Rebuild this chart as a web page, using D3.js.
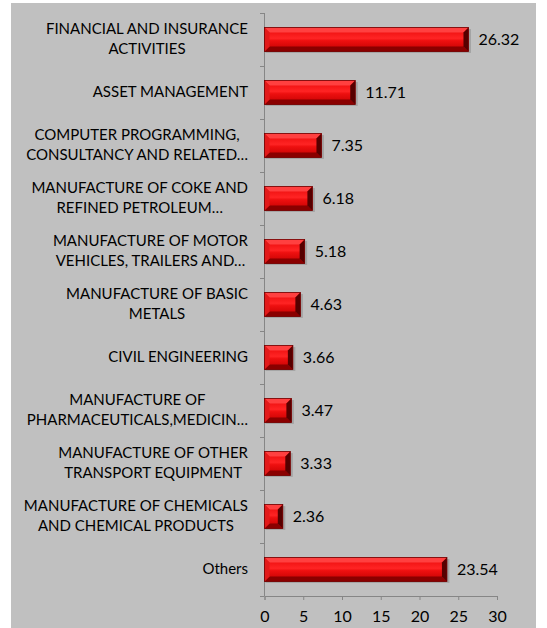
<!DOCTYPE html>
<html><head><meta charset="utf-8">
<script src="https://cdn.jsdelivr.net/npm/d3@7"></script>
<style>body{margin:0;background:#fff}svg{display:block}</style>
</head><body>
<svg id="c" width="547" height="628"></svg>
<script>
const categories = [
  ["FINANCIAL AND INSURANCE","ACTIVITIES"],
  ["ASSET MANAGEMENT"],
  ["COMPUTER PROGRAMMING,","CONSULTANCY AND RELATED…"],
  ["MANUFACTURE OF COKE AND","REFINED PETROLEUM…"],
  ["MANUFACTURE OF MOTOR","VEHICLES, TRAILERS AND…"],
  ["MANUFACTURE OF BASIC","METALS"],
  ["CIVIL ENGINEERING"],
  ["MANUFACTURE OF","PHARMACEUTICALS,MEDICIN…"],
  ["MANUFACTURE OF OTHER","TRANSPORT EQUIPMENT"],
  ["MANUFACTURE OF CHEMICALS","AND CHEMICAL PRODUCTS"],
  ["Others"]
];
const values = [26.32, 11.71, 7.35, 6.18, 5.18, 4.63, 3.66, 3.47, 3.33, 2.36, 23.54];
const xTicks = [0, 5, 10, 15, 20, 25, 30];

const FONT = "Lato, 'Open Sans', sans-serif";
const svg = d3.select("#c");
svg.append("rect").attr("x", 11).attr("y", 3).attr("width", 525).attr("height", 625).attr("fill", "#c0c0c0");

const x = d3.scaleLinear().domain([0, 30]).range([264.5, 497]);
const ids = categories.map((d, i) => i);
const y = d3.scaleBand().domain(ids).range([13, 596]).paddingInner(0.55).paddingOuter(0.275);

const defs = svg.append("defs");
const g = defs.append("linearGradient").attr("id", "face").attr("x1", 0).attr("y1", 0).attr("x2", 0).attr("y2", 1);
[[0, "#e80808"], [0.45, "#ff2424"], [0.55, "#ee1010"], [1, "#c00000"]].forEach(s => g.append("stop").attr("offset", s[0]).attr("stop-color", s[1]));

// axes
const axisColor = "#868686";
const xAxis = svg.append("g").attr("transform", "translate(0,596)")
  .call(d3.axisBottom(x).tickValues(xTicks).tickSize(4).tickPadding(11));
xAxis.selectAll("path,line").attr("stroke", axisColor);
xAxis.selectAll("text").attr("font-family", FONT).attr("font-size", 16).attr("fill", "#000");

const yAx = svg.append("g");
yAx.append("line").attr("x1", 264.5).attr("x2", 264.5).attr("y1", 13).attr("y2", 596).attr("stroke", axisColor);
d3.range(categories.length + 1).forEach(i => {
  const yy = Math.round(13 + i * (583 / categories.length)) + 0.5;
  yAx.append("line").attr("x1", 260).attr("x2", 264.5).attr("y1", yy).attr("y2", yy).attr("stroke", axisColor);
});

// bars
const bars = svg.append("g");
const b = 5;
ids.forEach(i => {
  const x0 = x(0), x1 = x(values[i]), y0 = y(i), h = y.bandwidth(), y1 = y0 + h;
  const bb = Math.min(b, (x1 - x0) / 2);
  const gg = bars.append("g");
  gg.append("rect").attr("x", x0 + 1).attr("y", y0 + 1.5).attr("width", x1 - x0 + 1.5).attr("height", h).attr("fill", "#000").attr("opacity", 0.15);
  gg.append("rect").attr("x", x0).attr("y", y0).attr("width", x1 - x0).attr("height", h).attr("fill", "url(#face)");
  gg.append("polygon").attr("points", [[x0, y0], [x1, y0], [x1 - bb, y0 + b], [x0 + bb, y0 + b]].join(" ")).attr("fill", "#ff4040");
  gg.append("polygon").attr("points", [[x0, y1], [x1, y1], [x1 - bb, y1 - b], [x0 + bb, y1 - b]].join(" ")).attr("fill", "#8a0000");
  gg.append("polygon").attr("points", [[x0, y0], [x0 + bb, y0 + b], [x0 + bb, y1 - b], [x0, y1]].join(" ")).attr("fill", "#e21a1a");
  gg.append("polygon").attr("points", [[x1, y0], [x1 - bb, y0 + b], [x1 - bb, y1 - b], [x1, y1]].join(" ")).attr("fill", "#560000");
  gg.append("rect").attr("x", x0).attr("y", y0).attr("width", x1 - x0).attr("height", h).attr("fill", "none").attr("stroke", "#700000").attr("stroke-width", 0.8);
  svg.append("text").attr("x", x1 + 10).attr("y", y0 + h / 2).attr("dy", "0.35em")
    .attr("font-family", FONT).attr("font-size", 16).attr("fill", "#000").text(values[i].toFixed(2));
});

// category labels
const labels = svg.append("g");
ids.forEach(i => {
  const lines = categories[i];
  const cy = y(i) + y.bandwidth() / 2 - 1;
  const lh = 20;
  const t = labels.append("text").attr("font-family", FONT).attr("font-size", 15).attr("fill", "#000").attr("text-anchor", "middle");
  const spans = lines.map((l, k) => t.append("tspan").attr("y", cy + (k - (lines.length - 1) / 2) * lh).attr("dy", "0.35em").text(l));
  const w = d3.max(spans, s => s.node().getComputedTextLength());
  spans.forEach(s => s.attr("x", 248 - w / 2));
});
</script>
</body></html>
